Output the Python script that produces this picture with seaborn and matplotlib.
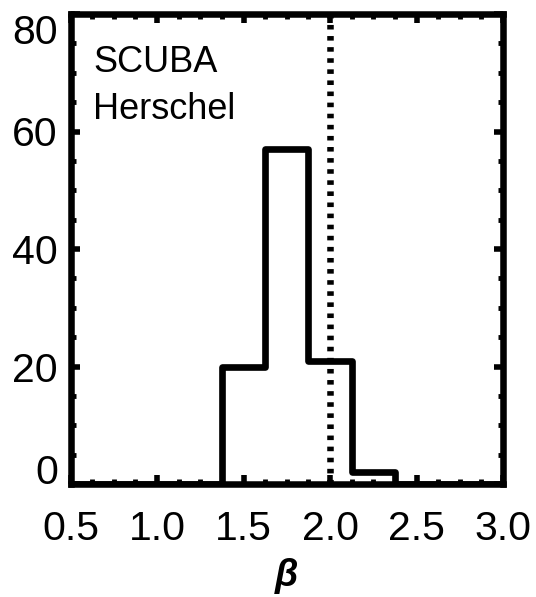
import numpy as np
import pandas as pd
import matplotlib
matplotlib.use("Agg")
import matplotlib.pyplot as plt
from matplotlib.ticker import MultipleLocator
import seaborn as sns

# ---- data ----
bin_edges = [0.375, 0.625, 0.875, 1.125, 1.375, 1.625, 1.875, 2.125, 2.375, 2.625, 2.875, 3.125]
counts = [0, 0, 0, 0, 20, 57, 21, 2, 0, 0, 0]
beta_reference = 2.0
xticks = [0.5, 1.0, 1.5, 2.0, 2.5, 3.0]
xtick_labels = ["0.5", "1.0", "1.5", "2.0", "2.5", "3.0"]
yticks = [0, 20, 40, 60, 80]
ytick_labels = ["0", "20", "40", "60", "80"]
legend_lines = ["SCUBA", "Herschel"]
x_label = "β"

sns.set_style("white")
plt.rcParams["font.family"] = ["Liberation Sans", "DejaVu Sans"]
plt.rcParams["text.color"] = "black"
plt.rcParams["xtick.color"] = "black"
plt.rcParams["ytick.color"] = "black"
plt.rcParams["axes.labelcolor"] = "black"

centers = [(a + b) / 2 for a, b in zip(bin_edges[:-1], bin_edges[1:])]
df = pd.DataFrame({"beta": centers, "n": counts})

fig = plt.figure(figsize=(5.36, 5.97), dpi=100)
ax = fig.add_axes([70.5 / 536, (597 - 484) / 597, 432.5 / 536, 470 / 597])

sns.histplot(data=df, x="beta", weights="n", bins=bin_edges, element="step",
             fill=False, color="black", linewidth=4.8, ax=ax)

ax.axvline(beta_reference, color="black", linewidth=4.7, linestyle=(0, (0.7, 1.0)))

ax.set_xlim(0.5, 3.0)
ax.set_ylim(0, 80)
ax.set_xticks(xticks)
ax.set_xticklabels(xtick_labels)
ax.set_yticks(yticks)
ax.set_yticklabels(ytick_labels)
ax.xaxis.set_minor_locator(MultipleLocator(0.125))
ax.yaxis.set_minor_locator(MultipleLocator(5))

ax.tick_params(which="both", direction="in", top=True, right=True, bottom=True, left=True,
               color="black", labelcolor="black")
ax.tick_params(which="major", length=6.5, width=4)
ax.tick_params(which="minor", length=3.5, width=3.5)
ax.tick_params(axis="x", which="major", labelsize=29.5, pad=19)
ax.tick_params(axis="y", which="major", labelsize=29.5, pad=9)

for sp in ax.spines.values():
    sp.set_linewidth(4.7)
    sp.set_color("black")
    sp.set_visible(True)

ylabs = ax.get_yticklabels()
ylabs[0].set_verticalalignment("baseline")
ylabs[-1].set_verticalalignment("top")

ax.set_ylabel("")
ax.set_xlabel(x_label, fontsize=27, fontweight="bold", fontstyle="italic", labelpad=7,
              color="black")

ax.text(0.052, 0.8766, legend_lines[0], transform=ax.transAxes, fontsize=26,
        va="baseline", ha="left", color="black")
ax.text(0.052, 0.776, legend_lines[1], transform=ax.transAxes, fontsize=26,
        va="baseline", ha="left", color="black")

fig.savefig("out.png", dpi=100)
